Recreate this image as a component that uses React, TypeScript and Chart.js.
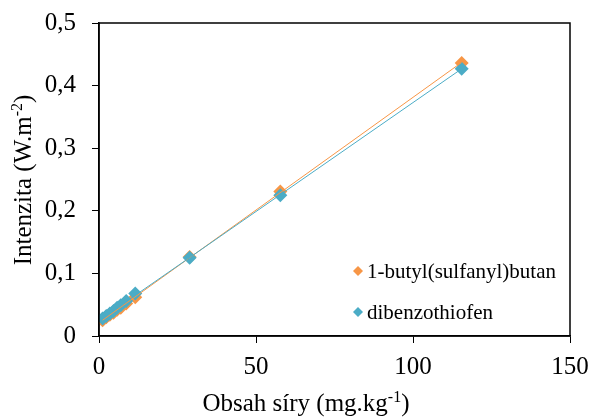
import React, { useEffect, useRef } from "react";
import { Chart, registerables } from "chart.js";

Chart.register(...registerables);

const sulfurContent = [1.15, 2.31, 3.46, 4.62, 5.77, 6.93, 8.66, 11.55, 28.87, 57.74, 115.5];
const butylValues = [0.025, 0.03, 0.034, 0.037, 0.042, 0.045, 0.052, 0.062, 0.126, 0.231, 0.436];
const dbtValues = [0.028, 0.032, 0.036, 0.04, 0.045, 0.049, 0.056, 0.068, 0.125, 0.225, 0.427];
const seriesLabels = ["1-butyl(sulfanyl)butan", "dibenzothiofen"];
const seriesColors = ["#F79646", "#4BACC6"];
const yTickLabels = ["0", "0,1", "0,2", "0,3", "0,4", "0,5"];
const xTitleParts = ["Obsah síry (mg.kg", "-1", ")"];
const yTitleParts = ["Intenzita (W.m", "-2", ")"];

const FONT = "'Liberation Serif', 'Times New Roman', serif";

function fit(xs: number[], ys: number[]) {
  const n = xs.length;
  const mx = xs.reduce((a, b) => a + b, 0) / n;
  const my = ys.reduce((a, b) => a + b, 0) / n;
  let sxy = 0, sxx = 0;
  for (let i = 0; i < n; i++) {
    sxy += (xs[i] - mx) * (ys[i] - my);
    sxx += (xs[i] - mx) ** 2;
  }
  const m = sxy / sxx;
  const b = my - m * mx;
  const x0 = Math.min(...xs), x1 = Math.max(...xs);
  return [{ x: x0, y: m * x0 + b }, { x: x1, y: m * x1 + b }];
}

function drawRich(ctx: CanvasRenderingContext2D, parts: string[], cx: number, baseY: number, size: number) {
  const big = `${size}px ${FONT}`;
  const small = `${Math.round(size * 0.62)}px ${FONT}`;
  ctx.font = big;
  const w0 = ctx.measureText(parts[0]).width;
  const w2 = ctx.measureText(parts[2]).width;
  ctx.font = small;
  const w1 = ctx.measureText(parts[1]).width;
  let x = cx - (w0 + w1 + w2) / 2;
  ctx.textAlign = "left";
  ctx.textBaseline = "alphabetic";
  ctx.font = big;
  ctx.fillText(parts[0], x, baseY);
  x += w0;
  ctx.font = small;
  ctx.fillText(parts[1], x, baseY - size * 0.36);
  x += w1;
  ctx.font = big;
  ctx.fillText(parts[2], x, baseY);
}

function zeroPad(s: any) {
  s.paddingTop = 0;
  s.paddingBottom = 0;
  s.paddingLeft = 0;
  s.paddingRight = 0;
}

export default function App() {
  const ref = useRef<HTMLCanvasElement | null>(null);
  useEffect(() => {
    if (!ref.current) return;
    const pts = (ys: number[]) => sulfurContent.map((x, i) => ({ x, y: ys[i] }));
    const series = [butylValues, dbtValues];

    const decor = {
      id: "decor",
      afterDraw(chart: any) {
        const { ctx, chartArea: a } = chart;
        ctx.save();
        ctx.strokeStyle = "#000";
        ctx.lineWidth = 1.5;
        ctx.strokeRect(a.left, a.top, a.right - a.left, a.bottom - a.top);
        ctx.fillStyle = "#000";
        drawRich(ctx, xTitleParts, 306, 411, 25);
        ctx.save();
        ctx.translate(31, 180);
        ctx.rotate(-Math.PI / 2);
        drawRich(ctx, yTitleParts, 0, 0, 25);
        ctx.restore();
        // legend
        ctx.font = `21px ${FONT}`;
        ctx.textAlign = "left";
        ctx.textBaseline = "middle";
        const rows = [271, 312];
        seriesLabels.forEach((lab, i) => {
          const cx = 358, cy = rows[i], r = 5;
          ctx.fillStyle = seriesColors[i];
          ctx.beginPath();
          ctx.moveTo(cx, cy - r);
          ctx.lineTo(cx + r, cy);
          ctx.lineTo(cx, cy + r);
          ctx.lineTo(cx - r, cy);
          ctx.closePath();
          ctx.fill();
          ctx.fillStyle = "#000";
          ctx.fillText(lab, 367, cy + 1);
        });
        ctx.restore();
      },
    };

    const datasets: any[] = [];
    series.forEach((ys, i) => {
      datasets.push({
        label: seriesLabels[i],
        data: pts(ys),
        showLine: false,
        pointStyle: "rectRot",
        radius: 7,
        backgroundColor: seriesColors[i],
        borderColor: seriesColors[i],
        borderWidth: 0,
        order: 2 - i + 2,
      });
    });
    series.forEach((ys, i) => {
      datasets.push({
        label: seriesLabels[i] + " trend",
        data: fit(sulfurContent, ys),
        showLine: true,
        pointRadius: 0,
        borderColor: seriesColors[i],
        borderWidth: 1,
        order: 2 - i,
      });
    });

    const chart = new Chart(ref.current, {
      type: "scatter",
      data: { datasets },
      plugins: [decor],
      options: {
        animation: false,
        responsive: false,
        layout: { padding: { left: 0, top: 23, right: 22, bottom: 0 } },
        plugins: { legend: { display: false }, tooltip: { enabled: false } },
        scales: {
          x: {
            type: "linear",
            min: 0,
            max: 150,
            ticks: { stepSize: 50, color: "#000", font: { family: FONT, size: 25 }, padding: 9, maxRotation: 0 },
            grid: { display: true, drawOnChartArea: false, drawTicks: true, tickLength: 7, color: "#000" },
            border: { display: true, color: "#000", width: 1.5 },
            afterFit: (s: any) => { s.height = 81; zeroPad(s); },
          },
          y: {
            type: "linear",
            min: 0,
            max: 0.5,
            ticks: {
              stepSize: 0.1,
              color: "#000",
              font: { family: FONT, size: 25 },
              padding: 16,
              callback: (_v: any, idx: number) => yTickLabels[idx],
            },
            grid: { display: true, drawOnChartArea: false, drawTicks: true, tickLength: 7, color: "#000" },
            border: { display: true, color: "#000", width: 1.5 },
            afterFit: (s: any) => { s.width = 99; zeroPad(s); },
          },
        },
      },
    });
    return () => chart.destroy();
  }, []);

  return (
    <div style={{ position: "absolute", left: 0, top: 0, width: 592, height: 417, background: "#fff" }}>
      <canvas ref={ref} width={592} height={417} />
    </div>
  );
}
